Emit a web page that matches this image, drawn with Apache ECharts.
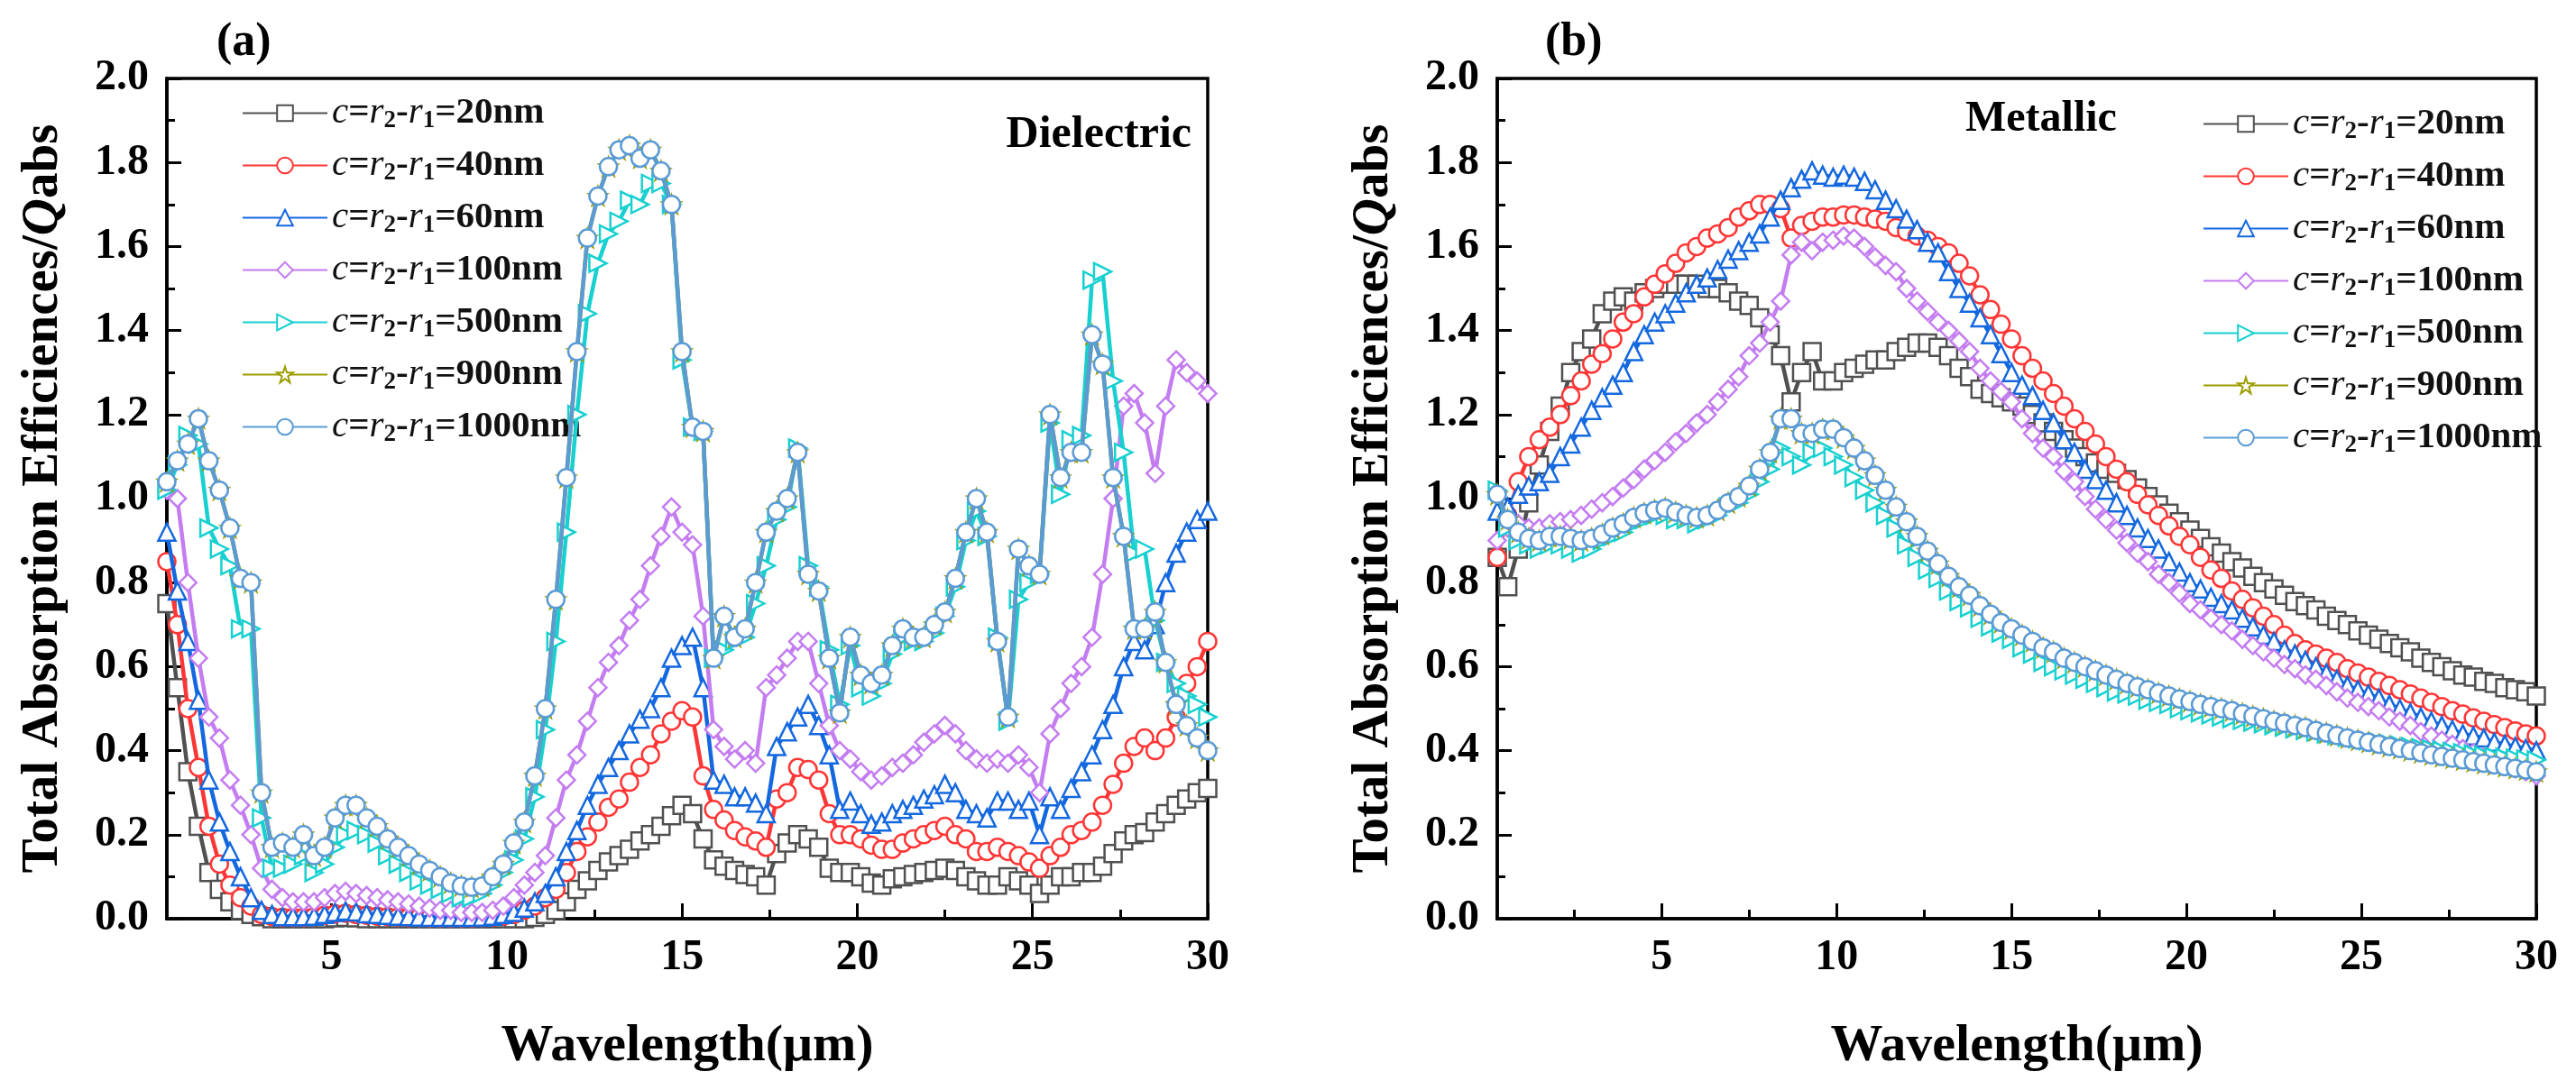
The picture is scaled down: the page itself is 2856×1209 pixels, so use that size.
<!DOCTYPE html>
<html><head><meta charset="utf-8">
<script src="https://cdn.jsdelivr.net/npm/echarts@6/dist/echarts.min.js"></script>
<style>html,body{margin:0;padding:0;background:#fff;}#c{width:2856px;height:1209px;}</style>
</head><body><div id="c"></div>
<script>
const wavelength = [0.3,0.6,0.9,1.2,1.5,1.8,2.1,2.4,2.7,3.0,3.3,3.6,3.9,4.2,4.5,4.8,5.1,5.4,5.7,6.0,6.3,6.6,6.9,7.2,7.5,7.8,8.1,8.4,8.7,9.0,9.3,9.6,9.9,10.2,10.5,10.8,11.1,11.4,11.7,12.0,12.3,12.6,12.9,13.2,13.5,13.8,14.1,14.4,14.7,15.0,15.3,15.6,15.9,16.2,16.5,16.8,17.1,17.4,17.7,18.0,18.3,18.6,18.9,19.2,19.5,19.8,20.1,20.4,20.7,21.0,21.3,21.6,21.9,22.2,22.5,22.8,23.1,23.4,23.7,24.0,24.3,24.6,24.9,25.2,25.5,25.8,26.1,26.4,26.7,27.0,27.3,27.6,27.9,28.2,28.5,28.8,29.1,29.4,29.7,30.0];

const seriesNames = ['c=r2-r1=20nm','c=r2-r1=40nm','c=r2-r1=60nm','c=r2-r1=100nm','c=r2-r1=500nm','c=r2-r1=900nm','c=r2-r1=1000nm'];
const xTickValues = [5,10,15,20,25,30];
const xMinorTickValues = [2.5,7.5,12.5,17.5,22.5,27.5];

// (a) Dielectric
const dielectric20 = [0.75,0.55,0.35,0.22,0.11,0.07,0.04,0.02,0.01,0.005, 0,0,0,0,0,0,0.002,0.003,0.002,0, 0,0,0,0,0,0,0,0,0,0, 0,0,0,0,0,0.003,0.01,0.02,0.04,0.07, 0.09,0.115,0.135,0.15,0.165,0.185,0.20,0.22,0.245,0.27, 0.25,0.19,0.14,0.125,0.115,0.105,0.10,0.08,0.155,0.18, 0.20,0.19,0.17,0.12,0.11,0.11,0.10,0.085,0.08,0.095, 0.10,0.105,0.11,0.115,0.12,0.115,0.10,0.09,0.08,0.08, 0.10,0.09,0.08,0.06,0.08,0.10,0.10,0.11,0.11,0.125, 0.155,0.185,0.20,0.205,0.23,0.25,0.27,0.285,0.30,0.31];
const dielectric40 = [0.85,0.70,0.50,0.36,0.22,0.13,0.08,0.05,0.03,0.01, 0.005,0.003,0.003,0.003,0.005,0.008,0.012,0.013,0.01,0.008, 0.006,0.005,0.004,0.003,0.003,0.002,0.002,0.002,0.002,0.002, 0.003,0.004,0.006,0.01,0.02,0.03,0.05,0.07,0.11,0.16, 0.195,0.23,0.265,0.285,0.325,0.36,0.39,0.44,0.47,0.495, 0.48,0.34,0.26,0.235,0.21,0.195,0.185,0.17,0.285,0.30, 0.36,0.355,0.33,0.25,0.20,0.20,0.19,0.175,0.165,0.165, 0.18,0.19,0.20,0.21,0.22,0.20,0.19,0.16,0.16,0.17, 0.16,0.15,0.135,0.12,0.15,0.17,0.20,0.21,0.23,0.27, 0.32,0.37,0.41,0.43,0.40,0.43,0.48,0.56,0.60,0.66];
const dielectric60 = [0.92,0.78,0.66,0.52,0.33,0.23,0.16,0.10,0.05,0.02, 0.01,0.005,0.005,0.005,0.006,0.01,0.015,0.018,0.016,0.012, 0.01,0.008,0.006,0.005,0.004,0.003,0.003,0.003,0.003,0.003, 0.004,0.006,0.01,0.015,0.025,0.04,0.06,0.10,0.16,0.21, 0.27,0.32,0.36,0.40,0.44,0.475,0.50,0.55,0.62,0.65, 0.67,0.55,0.33,0.32,0.29,0.29,0.275,0.25,0.41,0.445, 0.48,0.51,0.46,0.39,0.26,0.28,0.25,0.225,0.23,0.25, 0.26,0.27,0.285,0.295,0.32,0.30,0.26,0.25,0.24,0.28, 0.28,0.26,0.28,0.20,0.29,0.26,0.31,0.35,0.39,0.45, 0.51,0.60,0.66,0.64,0.70,0.80,0.87,0.92,0.95,0.97];
const dielectric100 = [1.02,1.00,0.80,0.62,0.48,0.43,0.33,0.27,0.20,0.12, 0.07,0.05,0.04,0.04,0.04,0.05,0.06,0.065,0.06,0.055, 0.05,0.045,0.04,0.035,0.03,0.025,0.02,0.02,0.015,0.015, 0.015,0.02,0.03,0.05,0.08,0.11,0.15,0.24,0.33,0.39, 0.47,0.55,0.61,0.65,0.71,0.76,0.84,0.91,0.98,0.92, 0.89,0.72,0.45,0.41,0.38,0.40,0.37,0.55,0.58,0.62, 0.66,0.66,0.56,0.46,0.40,0.38,0.35,0.33,0.34,0.36, 0.37,0.39,0.42,0.44,0.46,0.44,0.40,0.38,0.37,0.38, 0.37,0.39,0.36,0.30,0.44,0.50,0.56,0.60,0.67,0.82, 1.00,1.22,1.25,1.18,1.06,1.22,1.33,1.30,1.28,1.25];
const dielectric500 = [1.02,1.08,1.15,1.13,0.93,0.88,0.84,0.69,0.69,0.24, 0.12,0.12,0.13,0.15,0.11,0.13,0.17,0.20,0.21,0.20, 0.18,0.15,0.13,0.11,0.09,0.08,0.07,0.06,0.05,0.05, 0.06,0.08,0.11,0.14,0.19,0.29,0.45,0.66,0.92,1.20, 1.44,1.56,1.63,1.66,1.71,1.70,1.75,1.75,1.70,1.33, 1.17,1.16,0.62,0.64,0.66,0.67,0.75,0.84,0.95,0.98, 1.12,0.84,0.79,0.64,0.51,0.65,0.55,0.53,0.56,0.63, 0.67,0.66,0.66,0.68,0.72,0.79,0.90,0.97,0.91,0.67, 0.47,0.76,0.80,0.82,1.18,1.01,1.14,1.15,1.52,1.54, 1.28,1.11,0.87,0.88,0.71,0.61,0.56,0.53,0.51,0.48];
const dielectric900 = [1.04,1.09,1.13,1.19,1.09,1.02,0.93,0.81,0.80,0.30, 0.17,0.18,0.17,0.20,0.15,0.17,0.24,0.27,0.27,0.24, 0.22,0.19,0.17,0.15,0.13,0.115,0.10,0.085,0.078,0.075, 0.078,0.10,0.13,0.18,0.23,0.34,0.50,0.76,1.05,1.35, 1.62,1.72,1.79,1.83,1.84,1.81,1.83,1.78,1.70,1.35, 1.17,1.16,0.62,0.72,0.67,0.69,0.80,0.92,0.97,1.00, 1.11,0.82,0.78,0.62,0.49,0.67,0.58,0.56,0.58,0.65, 0.69,0.67,0.67,0.70,0.73,0.81,0.92,1.00,0.92,0.66, 0.48,0.88,0.84,0.82,1.20,1.05,1.11,1.11,1.39,1.32, 1.05,0.91,0.69,0.69,0.73,0.61,0.51,0.46,0.43,0.40];
const dielectric1000 = [1.04,1.09,1.13,1.19,1.09,1.02,0.93,0.81,0.80,0.30, 0.17,0.18,0.17,0.20,0.15,0.17,0.24,0.27,0.27,0.24, 0.22,0.19,0.17,0.15,0.13,0.115,0.10,0.085,0.078,0.075, 0.078,0.10,0.13,0.18,0.23,0.34,0.50,0.76,1.05,1.35, 1.62,1.72,1.79,1.83,1.84,1.81,1.83,1.78,1.70,1.35, 1.17,1.16,0.62,0.72,0.67,0.69,0.80,0.92,0.97,1.00, 1.11,0.82,0.78,0.62,0.49,0.67,0.58,0.56,0.58,0.65, 0.69,0.67,0.67,0.70,0.73,0.81,0.92,1.00,0.92,0.66, 0.48,0.88,0.84,0.82,1.20,1.05,1.11,1.11,1.39,1.32, 1.05,0.91,0.69,0.69,0.73,0.61,0.51,0.46,0.43,0.40];

// (b) Metallic
const metallic20 = [0.86,0.79,0.88,0.99,1.08,1.16,1.22,1.30,1.35,1.38, 1.44,1.47,1.48,1.47,1.49,1.50,1.51,1.51,1.51,1.51, 1.50,1.50,1.49,1.47,1.46,1.43,1.39,1.34,1.23,1.30, 1.35,1.28,1.28,1.30,1.31,1.32,1.33,1.33,1.35,1.36, 1.37,1.37,1.36,1.34,1.31,1.29,1.26,1.25,1.24,1.23, 1.22,1.20,1.18,1.16,1.14,1.12,1.10,1.085,1.07,1.06, 1.045,1.025,1.005,0.985,0.965,0.945,0.925,0.905,0.885,0.87, 0.85,0.835,0.815,0.80,0.785,0.77,0.755,0.745,0.735,0.72, 0.71,0.70,0.685,0.675,0.665,0.655,0.645,0.635,0.62,0.61, 0.60,0.59,0.58,0.575,0.565,0.56,0.55,0.545,0.54,0.53];
const metallic40 = [0.86,0.96,1.04,1.10,1.14,1.17,1.20,1.245,1.28,1.32, 1.345,1.38,1.42,1.44,1.48,1.51,1.535,1.56,1.585,1.60, 1.62,1.63,1.645,1.67,1.685,1.70,1.70,1.69,1.62,1.65, 1.66,1.67,1.67,1.675,1.675,1.67,1.665,1.66,1.645,1.635, 1.625,1.615,1.60,1.585,1.56,1.53,1.485,1.45,1.415,1.38, 1.34,1.31,1.28,1.25,1.22,1.19,1.16,1.13,1.10,1.07, 1.04,1.01,0.985,0.96,0.935,0.91,0.89,0.86,0.83,0.81, 0.78,0.76,0.74,0.72,0.70,0.675,0.655,0.64,0.63,0.62, 0.61,0.595,0.585,0.575,0.565,0.555,0.545,0.535,0.525,0.515, 0.505,0.495,0.487,0.478,0.47,0.462,0.455,0.447,0.44,0.435];
const metallic60 = [0.97,0.98,1.01,1.03,1.04,1.06,1.10,1.13,1.17,1.21, 1.24,1.27,1.30,1.35,1.39,1.42,1.44,1.465,1.49,1.51, 1.525,1.545,1.57,1.59,1.61,1.63,1.67,1.71,1.74,1.76, 1.78,1.77,1.765,1.77,1.765,1.755,1.735,1.71,1.69,1.665, 1.64,1.61,1.585,1.54,1.50,1.465,1.43,1.39,1.345,1.30, 1.27,1.245,1.21,1.18,1.14,1.11,1.07,1.045,1.02,0.99, 0.96,0.93,0.905,0.88,0.85,0.825,0.80,0.785,0.765,0.75, 0.735,0.715,0.695,0.675,0.66,0.64,0.63,0.615,0.60,0.585, 0.57,0.555,0.545,0.535,0.525,0.51,0.50,0.49,0.48,0.47, 0.46,0.45,0.44,0.435,0.43,0.42,0.415,0.41,0.405,0.40];
const metallic100 = [0.90,0.93,0.94,0.93,0.93,0.94,0.945,0.95,0.96,0.975, 0.99,1.005,1.025,1.045,1.07,1.09,1.11,1.135,1.155,1.18, 1.20,1.23,1.26,1.29,1.34,1.37,1.42,1.47,1.58,1.61, 1.59,1.61,1.615,1.625,1.62,1.60,1.575,1.555,1.54,1.50, 1.47,1.445,1.42,1.40,1.375,1.35,1.31,1.28,1.255,1.23, 1.19,1.155,1.12,1.10,1.065,1.04,1.005,0.975,0.95,0.925, 0.895,0.87,0.85,0.82,0.80,0.775,0.75,0.735,0.715,0.70, 0.685,0.665,0.65,0.635,0.62,0.605,0.595,0.58,0.57,0.555, 0.54,0.525,0.515,0.505,0.495,0.48,0.47,0.46,0.445,0.435, 0.425,0.415,0.405,0.395,0.385,0.375,0.365,0.357,0.35,0.34];
const metallic500 = [1.02,0.93,0.90,0.89,0.88,0.89,0.89,0.88,0.87,0.88, 0.90,0.91,0.92,0.94,0.95,0.96,0.96,0.95,0.95,0.94, 0.95,0.96,0.98,0.99,1.01,1.04,1.07,1.12,1.10,1.08, 1.11,1.12,1.10,1.08,1.05,1.02,0.99,0.96,0.93,0.89, 0.86,0.83,0.81,0.78,0.755,0.74,0.715,0.695,0.68,0.665, 0.645,0.63,0.61,0.60,0.59,0.58,0.57,0.56,0.55,0.54, 0.535,0.53,0.52,0.515,0.51,0.50,0.495,0.49,0.485,0.48, 0.476,0.472,0.468,0.464,0.46,0.456,0.452,0.448,0.444,0.44, 0.436,0.432,0.428,0.424,0.42,0.416,0.413,0.41,0.407,0.404, 0.401,0.398,0.395,0.392,0.389,0.386,0.384,0.382,0.38,0.378];
const metallic900 = [1.01,0.95,0.92,0.905,0.90,0.91,0.91,0.905,0.90,0.905, 0.915,0.93,0.94,0.955,0.965,0.972,0.977,0.968,0.96,0.955, 0.96,0.972,0.99,1.005,1.03,1.07,1.11,1.19,1.19,1.155, 1.155,1.165,1.165,1.145,1.12,1.09,1.055,1.02,0.98,0.945, 0.91,0.875,0.845,0.815,0.79,0.77,0.745,0.725,0.705,0.69, 0.675,0.66,0.645,0.635,0.62,0.61,0.60,0.59,0.58,0.57, 0.56,0.552,0.545,0.537,0.53,0.523,0.517,0.51,0.505,0.50, 0.495,0.488,0.482,0.476,0.47,0.465,0.46,0.455,0.448,0.442, 0.436,0.43,0.425,0.42,0.415,0.41,0.405,0.40,0.395,0.39, 0.386,0.382,0.378,0.374,0.37,0.366,0.362,0.358,0.354,0.35];
const metallic1000 = [1.01,0.95,0.92,0.905,0.90,0.91,0.91,0.905,0.90,0.905, 0.915,0.93,0.94,0.955,0.965,0.972,0.977,0.968,0.96,0.955, 0.96,0.972,0.99,1.005,1.03,1.07,1.11,1.19,1.19,1.155, 1.155,1.165,1.165,1.145,1.12,1.09,1.055,1.02,0.98,0.945, 0.91,0.875,0.845,0.815,0.79,0.77,0.745,0.725,0.705,0.69, 0.675,0.66,0.645,0.635,0.62,0.61,0.60,0.59,0.58,0.57, 0.56,0.552,0.545,0.537,0.53,0.523,0.517,0.51,0.505,0.50, 0.495,0.488,0.482,0.476,0.47,0.465,0.46,0.455,0.448,0.442, 0.436,0.43,0.425,0.42,0.415,0.41,0.405,0.40,0.395,0.39, 0.386,0.382,0.378,0.374,0.37,0.366,0.362,0.358,0.354,0.35];

const dielectricSets = [dielectric20,dielectric40,dielectric60,dielectric100,dielectric500,dielectric900,dielectric1000];
const metallicSets = [metallic20,metallic40,metallic60,metallic100,metallic500,metallic900,metallic1000];

const FONT = '"Liberation Serif","Times New Roman",serif';
const STAR = 'path://M50,2 L61,36 L97,36 L68,57 L79,92 L50,71 L21,92 L32,57 L3,36 L39,36 Z';
const styles = [
  {color:'#505050', symbol:'rect', rotate:0},
  {color:'#ff3636', symbol:'circle', rotate:0},
  {color:'#1468df', symbol:'triangle', rotate:0},
  {color:'#c47df0', symbol:'diamond', rotate:0},
  {color:'#18d0d0', symbol:'triangle', rotate:-90},
  {color:'#9c9c00', symbol:STAR, rotate:0},
  {color:'#5b9bd5', symbol:'circle', rotate:0}
];

function makeSeries(values, i, axisIndex) {
  const st = styles[i];
  return {
    type:'line', name: seriesNames[i], xAxisIndex: axisIndex, yAxisIndex: axisIndex,
    data: wavelength.map((x,k)=>[x, values[k]]),
    symbol: st.symbol, symbolSize: 19, symbolRotate: st.rotate,
    showAllSymbol: true, clip: true,
    lineStyle: {color: st.color, width: 4.5},
    itemStyle: {color:'#ffffff', borderColor: st.color, borderWidth: 2.5},
    emphasis: {disabled: true}, z: 2 + i
  };
}

const series = [];
dielectricSets.forEach((v,i)=>series.push(makeSeries(v,i,0)));
metallicSets.forEach((v,i)=>series.push(makeSeries(v,i,2)));

const tickLabelStyle = {fontFamily: FONT, fontSize: 48, fontWeight:'bold', color:'#000'};
const gridA = {left:185, top:87, width:1154, height:932};
const gridB = {left:1660, top:87, width:1152, height:932};

function mainX(gridIndex) {
  return {
    type:'value', gridIndex, min:0.3, max:30, position:'bottom',
    axisLine:{show:true, lineStyle:{color:'#000', width:3.5}},
    axisTick:{show:true, inside:true, length:17, customValues:xTickValues, lineStyle:{color:'#000', width:3}},
    axisLabel:{show:true, customValues:xTickValues, margin:20, ...tickLabelStyle},
    splitLine:{show:false},
    name:'Wavelength(\u03bcm)', nameLocation:'middle', nameGap:113,
    nameTextStyle:{fontFamily:FONT, fontSize:58, fontWeight:'bold', color:'#000'}
  };
}
function minorX(gridIndex) {
  return {
    type:'value', gridIndex, min:0.3, max:30, position:'bottom',
    axisLine:{show:false},
    axisTick:{show:true, inside:true, length:10, customValues:xMinorTickValues, lineStyle:{color:'#000', width:3}},
    axisLabel:{show:false}, splitLine:{show:false}
  };
}
function mainY(gridIndex) {
  return {
    type:'value', gridIndex, min:0, max:2, interval:0.2,
    axisLine:{show:true, lineStyle:{color:'#000', width:3.5}},
    axisTick:{show:true, inside:true, length:16, lineStyle:{color:'#000', width:3}},
    minorTick:{show:true, splitNumber:2, length:9, lineStyle:{color:'#000', width:3}},
    axisLabel:{show:true, margin:20, formatter:v=>v.toFixed(1), ...tickLabelStyle},
    splitLine:{show:false}, minorSplitLine:{show:false},
    name:'Total Absorption Efficiences/{q|Q}abs', nameLocation:'middle', nameGap:108, nameRotate:90,
    nameTextStyle:{fontFamily:FONT, fontSize:57, fontWeight:'bold', color:'#000',
      rich:{q:{fontFamily:FONT, fontSize:57, fontWeight:'bold', fontStyle:'italic', color:'#000'}}}
  };
}
function hiddenY(gridIndex) {
  return {type:'value', gridIndex, min:0, max:2, show:false};
}

function legendAt(left, top) {
  return {
    orient:'vertical', left, top, itemWidth:94, itemHeight:22, itemGap:13, align:'left',
    data: seriesNames, selectedMode:false,
    formatter: n => {
      const v = n.split('=')[2];
      return '{i|c}{t|=}{i|r}{s|2}{t|-}{i|r}{s|1}{t|=' + v + '}';
    },
    textStyle:{fontFamily:FONT, fontSize:41, color:'#111',
      rich:{
        i:{fontFamily:FONT, fontSize:41, fontStyle:'italic', color:'#111', lineHeight:42},
        t:{fontFamily:FONT, fontSize:41, fontWeight:'bold', color:'#111', lineHeight:42},
        s:{fontFamily:FONT, fontSize:27, fontWeight:'bold', color:'#111', lineHeight:26, padding:[18,0,0,0]}
      }}
  };
}

const chart = echarts.init(document.getElementById('c'), null, {renderer:'canvas'});
chart.setOption({
  animation:false,
  backgroundColor:'#ffffff',
  grid:[
    {...gridA, show:true, borderColor:'#000', borderWidth:3.5, backgroundColor:'transparent'},
    {...gridA, show:false},
    {...gridB, show:true, borderColor:'#000', borderWidth:3.5, backgroundColor:'transparent'},
    {...gridB, show:false}
  ],
  xAxis:[mainX(0), minorX(1), mainX(2), minorX(3)],
  yAxis:[mainY(0), hiddenY(1), mainY(2), hiddenY(3)],
  legend:[legendAt(263, 98), legendAt(2437, 110)],
  graphic:[
    {type:'text', left:268-28, top:50-28, style:{text:'(a)', font:'bold 52px '+FONT, fill:'#000'}},
    {type:'text', left:1741-28, top:50-28, style:{text:'(b)', font:'bold 52px '+FONT, fill:'#000'}},
    {type:'text', right:2856-1321, top:151-26, style:{text:'Dielectric', font:'bold 50px '+FONT, fill:'#000'}},
    {type:'text', left:2263-84, top:134-25, style:{text:'Metallic', font:'bold 48px '+FONT, fill:'#000'}}
  ],
  series
});
</script></body></html>
